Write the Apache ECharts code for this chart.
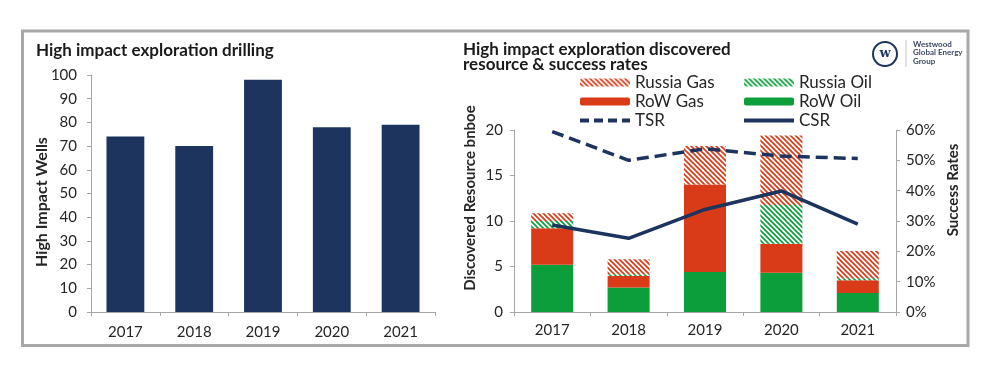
<!DOCTYPE html>
<html>
<head>
<meta charset="utf-8">
<script src="https://cdn.jsdelivr.net/npm/echarts@6/dist/echarts.min.js"></script>
<style>
html,body{margin:0;padding:0;background:#fff;}
#chart{width:992px;height:390px;}
</style>
</head>
<body>
<div id="chart"></div>
<script>
// ---- data ----
const years = ['2017', '2018', '2019', '2020', '2021'];
const highImpactWells = [74, 70, 98, 78, 79];
const rowOil = [5.2, 2.7, 4.4, 4.3, 2.1];
const rowGas = [4.0, 1.25, 9.6, 3.2, 1.4];
const russiaOil = [0.8, 0.2, 0, 4.25, 0.2];
const russiaGas = [0.85, 1.65, 4.25, 7.65, 3.0];
const tsr = [59.5, 50.0, 53.8, 51.4, 50.6];
const csr = [28.7, 24.3, 33.8, 39.9, 29.0];
const wellsTicks = [0, 10, 20, 30, 40, 50, 60, 70, 80, 90, 100];
const resourceTicks = [0, 5, 10, 15, 20];
const rateTicks = [0, 10, 20, 30, 40, 50, 60];

const NAVY = '#1d355e';
const RED = '#d93a17';
const GREEN = '#0b9e3b';
const AXIS = '#a6a6a6';
const TXT = '#262626';
const FONT = 'Lato, "Open Sans", sans-serif';

function hatch(color) {
  const s = 5;
  const c = document.createElement('canvas');
  c.width = s; c.height = s;
  const g = c.getContext('2d');
  g.fillStyle = '#ffffff';
  g.fillRect(0, 0, s, s);
  g.strokeStyle = color;
  g.lineWidth = 1.7;
  for (let k = -1; k <= 1; k++) {
    g.beginPath();
    g.moveTo(-1, k * s - 1);
    g.lineTo(s + 1, s + k * s + 1);
    g.stroke();
  }
  return { image: c, repeat: 'repeat' };
}

const chart = echarts.init(document.getElementById('chart'), null, { renderer: 'canvas' });

const axisLine = { show: true, lineStyle: { color: AXIS, width: 1 } };
const axisTick = { show: true, inside: false, length: 4, lineStyle: { color: AXIS } };
const lbl = { color: TXT, fontSize: 15, fontFamily: FONT };
const legendText = { fontSize: 17, color: TXT, fontFamily: FONT, lineHeight: 16 };

const option = {
  animation: false,
  backgroundColor: '#ffffff',
  textStyle: { fontFamily: FONT },
  title: [
    { text: 'High impact exploration drilling', left: 31, top: 37,
      textStyle: { fontSize: 17, fontWeight: 'bold', color: '#1a1a1a', fontFamily: FONT } },
    { text: 'High impact exploration discovered\nresource & success rates', left: 458, top: 37,
      textStyle: { fontSize: 17, fontWeight: 'bold', color: '#1a1a1a', fontFamily: FONT, lineHeight: 15 } }
  ],
  legend: [
    { left: 573, top: 69, orient: 'vertical', itemWidth: 50, itemHeight: 8, itemGap: 2,
      data: ['Russia Gas', 'RoW Gas',
        { name: 'TSR', itemStyle: { opacity: 0 }, lineStyle: { width: 4, type: [9, 5] } }],
      textStyle: legendText },
    { left: 737, top: 69, orient: 'vertical', itemWidth: 50, itemHeight: 8, itemGap: 2,
      data: ['Russia Oil', 'RoW Oil',
        { name: 'CSR', itemStyle: { opacity: 0 }, lineStyle: { width: 4 } }],
      textStyle: legendText }
  ],
  grid: [
    { left: 91, top: 75, width: 344, height: 237 },
    { left: 514, top: 130, width: 382, height: 182 }
  ],
  xAxis: [
    { type: 'category', gridIndex: 0, data: years, axisLine, axisTick,
      axisLabel: Object.assign({ margin: 13 }, lbl) },
    { type: 'category', gridIndex: 1, data: years, axisLine, axisTick,
      axisLabel: Object.assign({ margin: 11 }, lbl) }
  ],
  yAxis: [
    { type: 'value', gridIndex: 0, min: wellsTicks[0], max: wellsTicks[wellsTicks.length - 1], interval: 10,
      axisLine, axisTick, splitLine: { show: false },
      axisLabel: Object.assign({ margin: 14 }, lbl) },
    { type: 'value', gridIndex: 1, min: resourceTicks[0], max: resourceTicks[resourceTicks.length - 1], interval: 5,
      axisLine, axisTick, splitLine: { show: false },
      axisLabel: Object.assign({ margin: 11 }, lbl) },
    { type: 'value', gridIndex: 1, position: 'right', min: rateTicks[0], max: rateTicks[rateTicks.length - 1], interval: 10,
      axisLine, axisTick, splitLine: { show: false },
      axisLabel: Object.assign({ margin: 10, formatter: '{value}%' }, lbl) }
  ],
  series: [
    { name: 'Wells', type: 'bar', xAxisIndex: 0, yAxisIndex: 0, data: highImpactWells,
      barWidth: '55%', itemStyle: { color: NAVY } },
    { name: 'RoW Oil', type: 'bar', xAxisIndex: 1, yAxisIndex: 1, stack: 'res', data: rowOil,
      barWidth: '55%', itemStyle: { color: GREEN } },
    { name: 'RoW Gas', type: 'bar', xAxisIndex: 1, yAxisIndex: 1, stack: 'res', data: rowGas,
      itemStyle: { color: RED } },
    { name: 'Russia Oil', type: 'bar', xAxisIndex: 1, yAxisIndex: 1, stack: 'res', data: russiaOil,
      itemStyle: { color: hatch(GREEN) } },
    { name: 'Russia Gas', type: 'bar', xAxisIndex: 1, yAxisIndex: 1, stack: 'res', data: russiaGas,
      itemStyle: { color: hatch(RED) } },
    { name: 'TSR', type: 'line', xAxisIndex: 1, yAxisIndex: 2, data: tsr, symbol: 'none',
      lineStyle: { color: NAVY, width: 3.5, type: [12, 6] }, itemStyle: { color: NAVY } },
    { name: 'CSR', type: 'line', xAxisIndex: 1, yAxisIndex: 2, data: csr, symbol: 'none',
      lineStyle: { color: NAVY, width: 3.5 }, itemStyle: { color: NAVY } }
  ],
  graphic: [
    { type: 'rect', silent: true, z: -1, shape: { x: 22.5, y: 31, width: 945.5, height: 314.5 },
      style: { fill: 'none', stroke: '#a8a8a8', lineWidth: 3 } },
    { type: 'text', x: 42, y: 202, rotation: Math.PI / 2,
      style: { text: 'High Impact Wells', font: 'bold 16px ' + FONT, fill: TXT, align: 'center', verticalAlign: 'middle' } },
    { type: 'text', x: 470, y: 198, rotation: Math.PI / 2,
      style: { text: 'Discovered Resource bnboe', font: 'bold 15px ' + FONT, fill: TXT, align: 'center', verticalAlign: 'middle' } },
    { type: 'text', x: 953, y: 190, rotation: Math.PI / 2,
      style: { text: 'Success Rates', font: 'bold 15px ' + FONT, fill: TXT, align: 'center', verticalAlign: 'middle' } },
    // logo
    { type: 'circle', shape: { cx: 885, cy: 54, r: 12 }, style: { fill: '#fff', stroke: NAVY, lineWidth: 2 } },
    { type: 'text', x: 885, y: 54,
      style: { text: 'w', font: 'bold 13px "DejaVu Serif", serif', fill: NAVY, align: 'center', verticalAlign: 'middle' } },
    { type: 'line', shape: { x1: 906, y1: 40, x2: 906, y2: 67 }, style: { stroke: '#c8c8c8', lineWidth: 1 } },
    { type: 'text', x: 913, y: 40,
      style: { text: 'Westwood\nGlobal Energy\nGroup', font: 'bold 8px ' + FONT, lineHeight: 8.5, fill: '#3d4a66', align: 'left', verticalAlign: 'top' } }
  ]
};
chart.setOption(option);
</script>
</body>
</html>
